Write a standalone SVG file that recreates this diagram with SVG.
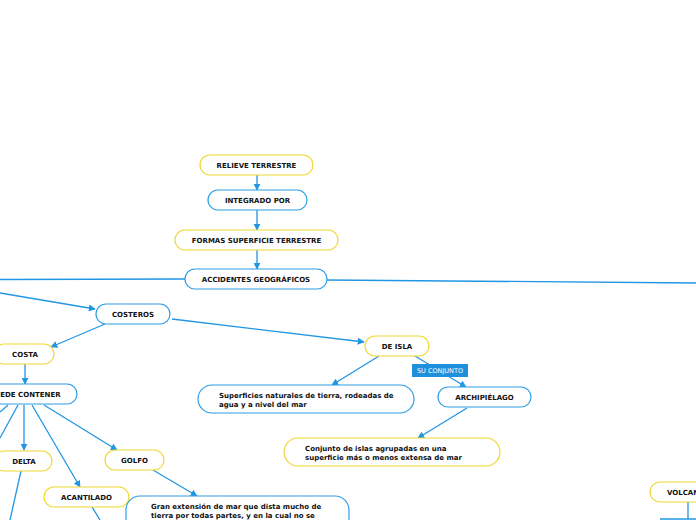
<svg xmlns="http://www.w3.org/2000/svg" width="696" height="520" viewBox="0 0 696 520">
<defs>
<marker id="ah" viewBox="0 0 10 10" refX="9" refY="5" markerWidth="7" markerHeight="7" markerUnits="userSpaceOnUse" orient="auto">
<path d="M0,0 L10,5 L0,10 z" fill="#2196e3"/>
</marker>
<style>
.n rect{fill:#fff;stroke-width:1.2}
.b rect{stroke:#2e9ee6}
.y rect{stroke:#f0d830}
.t{font-family:"DejaVu Sans",Verdana,sans-serif;font-weight:bold;font-size:7px;fill:#111}
.c{text-anchor:middle}
.e line,.e path{stroke:#2196e3;stroke-width:1.3;fill:none}
.a{marker-end:url(#ah)}
</style>
</defs>
<rect width="696" height="520" fill="#fff"/>
<g class="e" id="connectors">
<line class="a" x1="257" y1="175" x2="257" y2="190"/>
<line class="a" x1="257" y1="210" x2="257" y2="230"/>
<line class="a" x1="257" y1="250" x2="257" y2="269"/>
<line x1="185" y1="279" x2="0" y2="279.5"/>
<line x1="327" y1="280" x2="696" y2="283"/>
<line class="a" x1="0" y1="293" x2="95" y2="309"/>
<line class="a" x1="105" y1="324" x2="51" y2="347"/>
<line class="a" x1="172" y1="319" x2="364" y2="342"/>
<line class="a" x1="25" y1="364" x2="25" y2="384"/>
<line x1="8" y1="405" x2="0" y2="412"/>
<line x1="18" y1="405" x2="0" y2="438"/>
<line class="a" x1="24" y1="405" x2="24" y2="450"/>
<line class="a" x1="32" y1="405" x2="80" y2="487"/>
<line class="a" x1="44" y1="405" x2="117" y2="450"/>
<line x1="21" y1="471" x2="10" y2="520"/>
<line x1="92" y1="507" x2="100" y2="520"/>
<line class="a" x1="153" y1="470" x2="197" y2="496"/>
<line class="a" x1="379" y1="356" x2="332" y2="385"/>
<line class="a" x1="415" y1="356" x2="466" y2="387"/>
<line class="a" x1="467" y1="408" x2="418" y2="438"/>
<line x1="688" y1="502" x2="688" y2="519"/>
<line x1="660" y1="519" x2="696" y2="519"/>
</g>
<g id="lbl-suconjunto">
<rect x="412" y="364" width="56" height="13" fill="#1e90dc"/>
<text x="440" y="373" text-anchor="middle" font-family="DejaVu Sans,Verdana,sans-serif" font-size="6.5" fill="#fff">SU CONJUNTO</text>
</g>
<g id="n-relieve" class="n y"><rect x="200" y="155" width="113" height="20" rx="10"/><text class="t c" x="256.5" y="167.5">RELIEVE TERRESTRE</text></g>
<g id="n-integrado" class="n b"><rect x="208" y="190" width="99" height="20" rx="10"/><text class="t c" x="257.5" y="202.5">INTEGRADO POR</text></g>
<g id="n-formas" class="n y"><rect x="175" y="230" width="163" height="20" rx="10"/><text class="t c" x="256.5" y="242.5">FORMAS SUPERFICIE TERRESTRE</text></g>
<g id="n-accidentes" class="n b"><rect x="185" y="269" width="142" height="20" rx="10"/><text class="t c" x="256" y="281.5">ACCIDENTES GEOGRÁFICOS</text></g>
<g id="n-costeros" class="n b"><rect x="96" y="304" width="74" height="20" rx="10"/><text class="t c" x="133" y="316.5">COSTEROS</text></g>
<g id="n-costa" class="n y"><rect x="-6" y="344" width="60" height="20" rx="10"/><text class="t c" x="25" y="356.5">COSTA</text></g>
<g id="n-puede" class="n b"><rect x="-40" y="384" width="117" height="20" rx="10"/><text class="t c" x="25" y="396.5">PUEDE CONTENER</text></g>
<g id="n-delta" class="n y"><rect x="-6" y="451" width="58" height="20" rx="10"/><text class="t c" x="24" y="463.5">DELTA</text></g>
<g id="n-golfo" class="n y"><rect x="105" y="450" width="59" height="20" rx="10"/><text class="t c" x="134.5" y="462.5">GOLFO</text></g>
<g id="n-acantilado" class="n y"><rect x="44" y="487" width="85" height="20" rx="10"/><text class="t c" x="86.5" y="499.5">ACANTILADO</text></g>
<g id="n-gran" class="n b"><rect x="126" y="496" width="223" height="50" rx="14"/><text class="t" x="151" y="509">Gran extensión de mar que dista mucho de</text><text class="t" x="151" y="518">tierra por todas partes, y en la cual no se</text></g>
<g id="n-deisla" class="n y"><rect x="365" y="336" width="64" height="20" rx="10"/><text class="t c" x="397" y="348.5">DE ISLA</text></g>
<g id="n-superficies" class="n b"><rect x="198" y="385" width="216" height="28" rx="14"/><text class="t" x="219" y="397.5">Superficies naturales de tierra, rodeadas de</text><text class="t" x="219" y="406.5">agua y a nivel del mar</text></g>
<g id="n-archipielago" class="n b"><rect x="438" y="387" width="93" height="20" rx="10"/><text class="t c" x="484.5" y="399.5">ARCHIPIÉLAGO</text></g>
<g id="n-conjunto" class="n y"><rect x="284" y="438" width="216" height="28" rx="14"/><text class="t" x="305" y="450.5">Conjunto de islas agrupadas en una</text><text class="t" x="305" y="459.5">superficie más o menos extensa de mar</text></g>
<g id="n-volcan" class="n y"><rect x="650" y="482" width="80" height="20" rx="10"/><text class="t" x="667" y="494.5">VOLCANES</text></g>
</svg>
